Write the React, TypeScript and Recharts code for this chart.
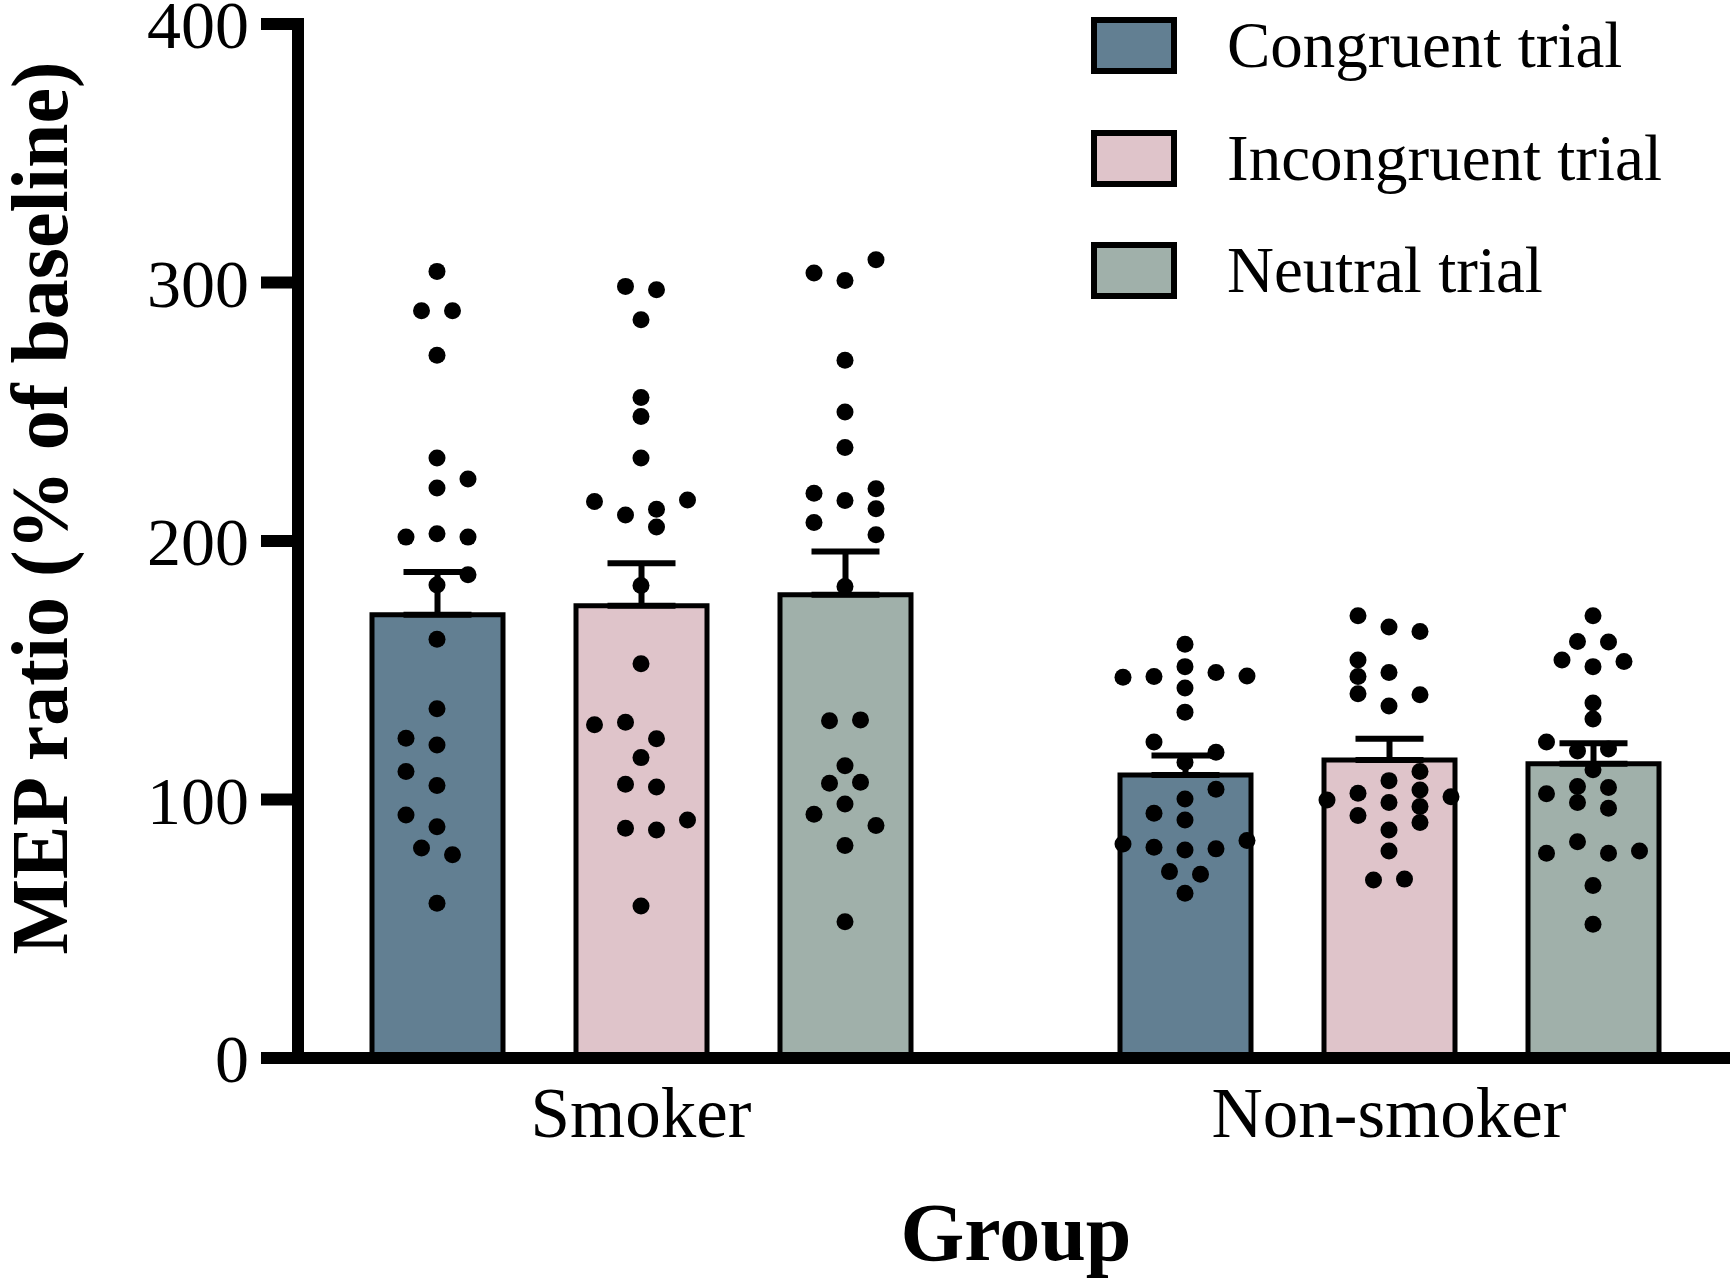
import React from "react";
import {
  ComposedChart,
  Bar,
  ErrorBar,
  Scatter,
  XAxis,
  YAxis,
  Legend,
} from "recharts";

// ---- data ----
const groups = ["Smoker", "Non-smoker"];
const seriesNames = ["Congruent trial", "Incongruent trial", "Neutral trial"];
const seriesColors = ["#627f92", "#dfc4ca", "#a0b0aa"];

const congruentMean = [171.5, 109.5];
const incongruentMean = [175.0, 115.3];
const neutralMean = [179.2, 113.8];

const congruentSem = [16.5, 7.5];
const incongruentSem = [16.4, 8.2];
const neutralSem = [16.7, 8.0];

const yTicks = [0, 100, 200, 300, 400];

// individual subjects (value) and the column each dot sits in
const smokerCongruent = [304.3, 289.1, 289.1, 271.9, 232.1, 224.0, 220.5, 201.5, 202.8, 201.5, 186.9, 183.0, 162.0, 135.1, 123.7, 121.1, 110.8, 105.4, 94.0, 89.5, 81.2, 78.6, 59.9];
const smokerCongruentCol = [0, -1, 1, 0, 0, 2, 0, -2, 0, 2, 2, 0, 0, 0, -2, 0, -2, 0, -2, 0, -1, 1, 0];

const smokerIncongruent = [298.5, 297.2, 285.6, 255.5, 248.2, 232.1, 215.3, 215.9, 210.1, 212.3, 205.4, 182.8, 152.5, 128.9, 129.9, 123.5, 116.2, 105.9, 104.8, 92.1, 88.9, 88.2, 58.8];
const smokerIncongruentCol = [-1, 1, 0, 0, 0, 0, -3, 3, -1, 1, 1, 0, 0, -3, -1, 1, 0, -1, 1, 3, -1, 1, 0];

const smokerNeutral = [303.7, 300.8, 308.8, 269.9, 249.9, 236.2, 218.5, 215.7, 220.2, 207.2, 212.5, 202.4, 182.4, 130.5, 130.8, 113.1, 106.3, 106.7, 98.3, 94.3, 89.9, 82.2, 52.7];
const smokerNeutralCol = [-2, 0, 2, 0, 0, 0, -2, 0, 2, -2, 2, 2, 0, -1, 1, 0, -1, 1, 0, -2, 2, 0, 0];

const nonSmokerCongruent = [160.1, 147.3, 147.6, 151.4, 149.1, 147.8, 143.1, 133.8, 122.2, 118.3, 114.4, 104.0, 100.2, 94.7, 92.1, 82.8, 81.5, 80.5, 80.9, 84.1, 72.1, 71.1, 63.7];
const nonSmokerCongruentCol = [0, -4, -2, 0, 2, 4, 0, 0, -2, 2, 0, 2, 0, -2, 0, -4, -2, 0, 2, 4, -1, 1, 0];

const nonSmokerIncongruent = [171.1, 166.7, 165.0, 154.0, 147.6, 140.9, 149.1, 140.5, 136.2, 110.8, 103.7, 97.3, 91.1, 107.3, 102.4, 99.8, 101.1, 98.8, 93.8, 88.2, 80.1, 68.9, 69.2];
const nonSmokerIncongruentCol = [-2, 0, 2, -2, -2, -2, 0, 2, 0, 2, 2, 2, 2, 0, -2, -4, 4, 0, -2, 0, 0, -1, 1];

const nonSmokerNeutral = [171.1, 161.1, 160.9, 154.0, 153.4, 151.4, 137.3, 131.1, 122.2, 118.8, 119.5, 111.5, 102.2, 105.0, 104.6, 98.8, 96.6, 83.7, 79.2, 79.2, 80.1, 66.7, 51.7];
const nonSmokerNeutralCol = [0, -1, 1, -2, 2, 0, 0, 0, -3, -1, 1, 0, -3, -1, 1, -1, 1, -1, -3, 1, 3, 0, 0];

// ---- layout ----
const W = 1733;
const H = 1280;
const PLOT_LEFT = 298;
const PLOT_TOP = 24;
const PLOT_RIGHT = 1730;
const PLOT_BOTTOM = 1058;
const PAD_L = -31;
const PAD_R = -33;
const BAND = (PLOT_RIGHT - PLOT_LEFT - PAD_L - PAD_R) / groups.length;
const BAR_SIZE = 131;
const BAR_GAP = 73;
const SLOT = BAR_SIZE + BAR_GAP;
const COL_PX = 15.5;

const SERIF = '"Liberation Serif", "Times New Roman", Times, serif';

const chartData = groups.map((g, i) => ({
  group: g,
  congruent: congruentMean[i],
  incongruent: incongruentMean[i],
  neutral: neutralMean[i],
  congruentErr: [0, congruentSem[i]],
  incongruentErr: [0, incongruentSem[i]],
  neutralErr: [0, neutralSem[i]],
}));

function toDots(values: number[][], cols: number[][], s: number) {
  return values.flatMap((vals, g) =>
    vals.map((v, k) => ({
      x: (g + 0.5) * BAND + (s - 1) * SLOT + cols[g][k] * COL_PX,
      y: v,
    }))
  );
}

const congruentDots = toDots([smokerCongruent, nonSmokerCongruent], [smokerCongruentCol, nonSmokerCongruentCol], 0);
const incongruentDots = toDots([smokerIncongruent, nonSmokerIncongruent], [smokerIncongruentCol, nonSmokerIncongruentCol], 1);
const neutralDots = toDots([smokerNeutral, nonSmokerNeutral], [smokerNeutralCol, nonSmokerNeutralCol], 2);

const Dot = (props: any) => <circle cx={props.cx} cy={props.cy} r={8.5} fill="#000" />;

const YTitle = () => (
  <text
    x={67}
    y={508}
    transform="rotate(-90, 67, 508)"
    textAnchor="middle"
    fontFamily={SERIF}
    fontWeight={700}
    fontSize={80}
    fill="#000"
  >
    MEP ratio (% of baseline)
  </text>
);

const XTitle = () => (
  <text
    x={1016}
    y={1260}
    textAnchor="middle"
    fontFamily={SERIF}
    fontWeight={700}
    fontSize={82}
    fill="#000"
  >
    Group
  </text>
);

function LegendContent() {
  return (
    <div style={{ display: "flex", flexDirection: "column", fontFamily: SERIF }}>
      {seriesNames.map((name, i) => (
        <div
          key={name}
          style={{ display: "flex", alignItems: "center", height: 57, marginBottom: 55.5 }}
        >
          <div
            style={{
              width: 74,
              height: 45,
              background: seriesColors[i],
              border: "6px solid #000",
            }}
          />
          <span style={{ marginLeft: 50, fontSize: 65, lineHeight: "57px", color: "#000" }}>
            {name}
          </span>
        </div>
      ))}
    </div>
  );
}

export default function App() {
  return (
    <div style={{ position: "absolute", left: 0, top: 0, width: W, height: H, background: "#fff" }}>
      <ComposedChart
        width={W}
        height={H}
        data={chartData}
        barSize={BAR_SIZE}
        barGap={BAR_GAP}
        margin={{ top: PLOT_TOP, right: W - PLOT_RIGHT, bottom: 0, left: 0 }}
      >
        <XAxis
          xAxisId="cat"
          dataKey="group"
          padding={{ left: PAD_L, right: PAD_R }}
          height={H - PLOT_BOTTOM}
          axisLine={{ stroke: "#000", strokeWidth: 12 }}
          tickLine={false}
          tickSize={0}
          tickMargin={29}
          interval={0}
          tick={{ fontSize: 71, fill: "#000", fontFamily: SERIF }}
          label={XTitle}
        />
        <XAxis
          xAxisId="num"
          type="number"
          dataKey="x"
          domain={[0, BAND * groups.length]}
          padding={{ left: PAD_L, right: PAD_R }}
          allowDataOverflow
          hide
        />
        <YAxis
          domain={[0, 400]}
          ticks={yTicks}
          interval={0}
          width={PLOT_LEFT}
          tickSize={37}
          tickMargin={12}
          axisLine={{ stroke: "#000", strokeWidth: 12, strokeLinecap: "square" }}
          tickLine={{ stroke: "#000", strokeWidth: 12 }}
          tick={{ fontSize: 68, fill: "#000", fontFamily: SERIF }}
          label={YTitle}
        />
        <Legend
          layout="horizontal"
          verticalAlign="middle"
          align="center"
          wrapperStyle={{ top: 17, left: 1091, width: 620, height: 300 }}
          content={<LegendContent />}
        />
        <Bar xAxisId="cat" dataKey="congruent" name={seriesNames[0]} fill={seriesColors[0]} stroke="#000" strokeWidth={5} isAnimationActive={false}>
          <ErrorBar dataKey="congruentErr" direction="y" width={34} strokeWidth={6} stroke="#000" />
        </Bar>
        <Bar xAxisId="cat" dataKey="incongruent" name={seriesNames[1]} fill={seriesColors[1]} stroke="#000" strokeWidth={5} isAnimationActive={false}>
          <ErrorBar dataKey="incongruentErr" direction="y" width={34} strokeWidth={6} stroke="#000" />
        </Bar>
        <Bar xAxisId="cat" dataKey="neutral" name={seriesNames[2]} fill={seriesColors[2]} stroke="#000" strokeWidth={5} isAnimationActive={false}>
          <ErrorBar dataKey="neutralErr" direction="y" width={34} strokeWidth={6} stroke="#000" />
        </Bar>
        <Scatter xAxisId="num" data={congruentDots} dataKey="y" shape={Dot} legendType="none" isAnimationActive={false} />
        <Scatter xAxisId="num" data={incongruentDots} dataKey="y" shape={Dot} legendType="none" isAnimationActive={false} />
        <Scatter xAxisId="num" data={neutralDots} dataKey="y" shape={Dot} legendType="none" isAnimationActive={false} />
      </ComposedChart>
    </div>
  );
}
